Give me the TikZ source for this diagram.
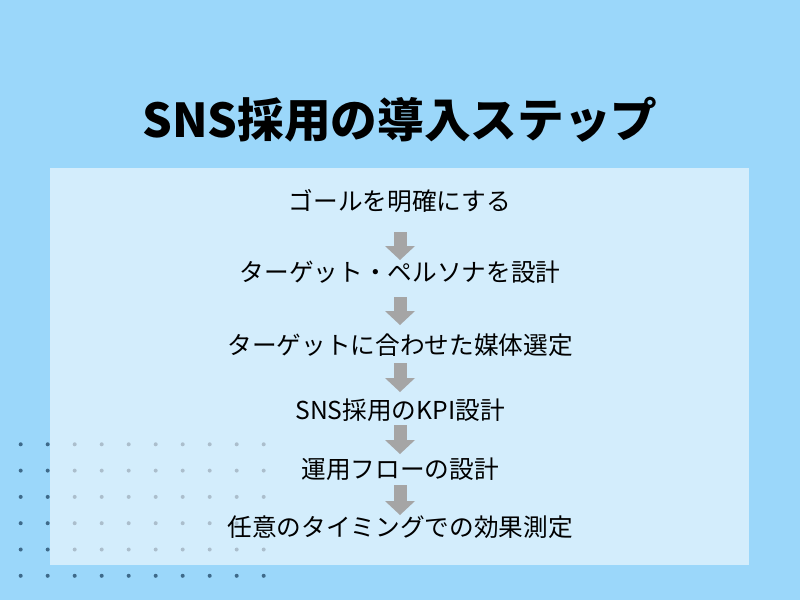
\documentclass[tikz,border=0pt]{standalone}
\usepackage{fontspec}
\setmainfont{Noto Sans CJK JP}
\usepackage{tikz}
\usetikzlibrary{arrows.meta}
\definecolor{sky}{RGB}{155,215,250}
\definecolor{dotblue}{RGB}{62,106,138}
\definecolor{flowgray}{RGB}{165,165,165}
\tikzstyle{title}=[inner sep=0pt,font=\fontsize{35pt}{40pt}\selectfont\bfseries,text height=28pt,text depth=1.75pt]
\tikzstyle{stage}=[inner sep=0pt,font=\fontsize{18.5pt}{22pt}\selectfont,text height=14.8pt,text depth=0.9pt]
\tikzstyle{flow}=[draw=flowgray,line width=9.75pt,-{Triangle[width=22.5pt,length=10.5pt,line width=0pt]}]
\tikzstyle{panel}=[fill=white,fill opacity=0.57]
\tikzstyle{spot}=[fill=dotblue]

\begin{document}
\begin{tikzpicture}[x=0.75pt,y=-0.75pt]
      \useasboundingbox (0,0) rectangle (800,600);
      \fill[sky] (0,0) rectangle (800,600);
      \foreach \i in {0,...,9}
        \foreach \j in {0,...,5}
          \fill[spot] (20.7+27*\i,444.3+26.3*\j) circle[radius=1.5pt];
      \fill[panel] (50,168) rectangle (749,565);
      \node[title] at (400,120) (head) {SNS採用の導入ステップ};
      \node[stage] at (400,201) (goal) {ゴールを明確にする};
      \node[stage] at (400,272) (persona) {ターゲット・ペルソナを設計};
      \node[stage] at (400,345) (media) {ターゲットに合わせた媒体選定};
      \node[stage] at (400,410) (kpi) {SNS採用のKPI設計};
      \node[stage] at (400,469) (ops) {運用フローの設計};
      \node[stage] at (400,527) (review) {任意のタイミングでの効果測定};
      \draw[flow,shorten <=23.25pt,shorten >=9pt] (goal.center)--(persona.center);
      \draw[flow,shorten <=18.75pt,shorten >=15pt] (persona.center)--(media.center);
      \draw[flow,shorten <=13.5pt,shorten >=13.5pt] (media.center)--(kpi.center);
      \draw[flow,shorten <=11.25pt,shorten >=11.25pt] (kpi.center)--(ops.center);
      \draw[flow,shorten <=12pt,shorten >=9pt] (ops.center)--(review.center);
    \end{tikzpicture}
\end{document}
